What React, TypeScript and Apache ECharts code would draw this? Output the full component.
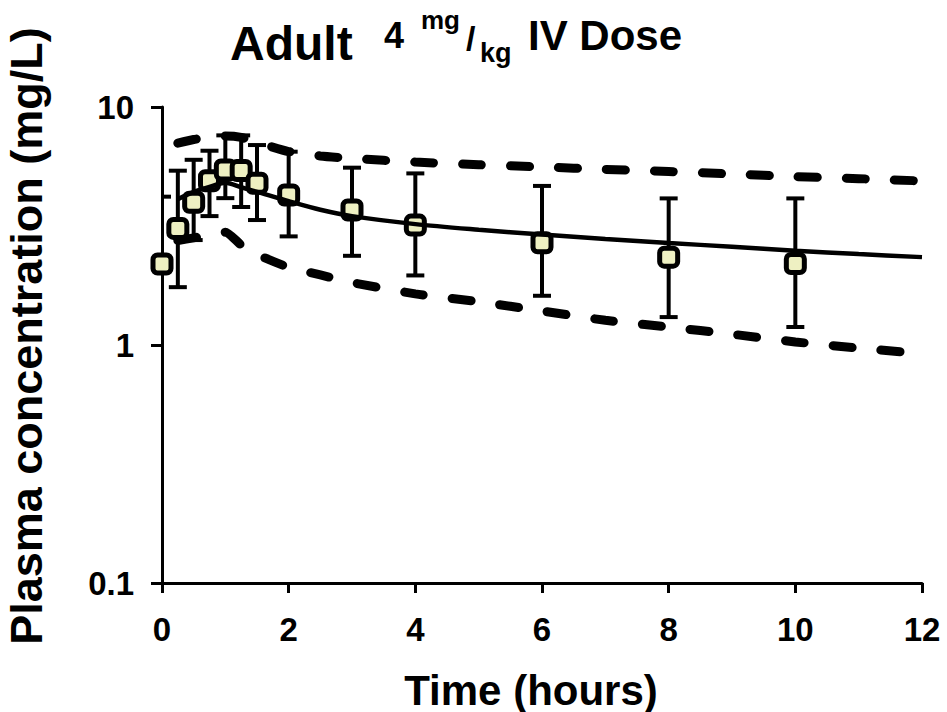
import React, { useEffect, useRef } from "react";
import * as echarts from "echarts";

// Observed data (mean with error bars)
const obsTimes = [0, 0.25, 0.5, 0.75, 1, 1.25, 1.5, 2, 3, 4, 6, 8, 10];
const obsMean = [2.19, 3.09, 3.98, 4.9, 5.44, 5.41, 4.78, 4.27, 3.69, 3.19, 2.69, 2.34, 2.2];
const obsUpper = [4.2, 5.4, 6.0, 6.55, 7.6, 7.6, 6.92, 6.49, 5.56, 5.26, 4.66, 4.13, 4.13];
const obsLower = [0.05, 1.75, 2.76, 3.48, 4.14, 3.8, 3.35, 2.86, 2.37, 1.96, 1.61, 1.31, 1.19];

// Model prediction: median
const medTimes = [0.25, 0.5, 0.75, 1, 1.25, 1.5, 2, 2.5, 3, 4, 5, 6, 7, 8, 9, 10, 11, 12];
const medValues = [4.1, 4.4, 4.62, 4.8, 4.6, 4.4, 4.02, 3.7, 3.48, 3.22, 3.05, 2.91, 2.79, 2.68, 2.59, 2.49, 2.41, 2.34];

// Model prediction: 95th and 5th percentiles
const bandTimes = [0.25, 0.5, 0.75, 1, 1.25, 1.5, 2, 2.5, 3, 4, 5, 6, 7, 8, 9, 10, 11, 12];
const upperValues = [7.05, 7.3, 7.45, 7.55, 7.45, 7.1, 6.5, 6.23, 6.08, 5.87, 5.72, 5.6, 5.47, 5.36, 5.23, 5.1, 5.0, 4.89];
const lowerValues = [2.75, 2.82, 2.9, 2.98, 2.63, 2.4, 2.12, 1.97, 1.83, 1.64, 1.52, 1.39, 1.27, 1.19, 1.11, 1.03, 0.97, 0.92];

const xTicks = { min: 0, max: 12, interval: 2 };
const yTicks = { min: 0.1, max: 10 };

const FONT = "'Liberation Sans', Arial, Helvetica, sans-serif";

export default function App() {
  const ref = useRef<HTMLDivElement>(null);

  useEffect(() => {
    if (!ref.current) return;
    const chart = echarts.init(ref.current, null, { renderer: "svg" });

    const pair = (xs: number[], ys: number[]) => xs.map((x, i) => [x, ys[i]]);

    const t = (text: string, x: number, y: number, size: number, extra: any = {}) => ({
      type: "text",
      x,
      y,
      z: 100,
      style: {
        text,
        font: `bold ${size}px ${FONT}`,
        fill: "#000",
        align: "left",
        verticalAlign: "middle",
        ...extra,
      },
    });

    const option: any = {
      animation: false,
      backgroundColor: "#ffffff",
      grid: { left: 162, top: 107, width: 760, height: 476, containLabel: false },
      xAxis: {
        type: "value",
        min: xTicks.min,
        max: xTicks.max,
        interval: xTicks.interval,
        axisLine: { show: true, lineStyle: { color: "#000", width: 3 } },
        axisTick: { show: true, length: 10, lineStyle: { color: "#000", width: 3 } },
        axisLabel: {
          color: "#000",
          fontSize: 33,
          fontWeight: "bold",
          fontFamily: FONT,
          margin: 30,
        },
        splitLine: { show: false },
      },
      yAxis: {
        type: "log",
        logBase: 10,
        min: yTicks.min,
        max: yTicks.max,
        axisLine: { show: true, lineStyle: { color: "#000", width: 3 } },
        axisTick: { show: true, length: 11, lineStyle: { color: "#000", width: 3 } },
        minorTick: { show: false },
        axisLabel: {
          color: "#000",
          fontSize: 33,
          fontWeight: "bold",
          fontFamily: FONT,
          margin: 28,
          formatter: (v: number) => (v < 1 ? v.toFixed(1) : String(Math.round(v))),
        },
        splitLine: { show: false },
      },
      graphic: [
        t("Adult", 230, 43, 48),
        t("4", 384, 35, 36),
        t("mg", 421, 20, 26),
        t("/", 466, 38, 34),
        t("kg", 480, 53, 27),
        t("IV Dose", 528, 35, 42),
        t("Time (hours)", 531, 690, 42, { align: "center" }),
        {
          type: "text",
          x: 26,
          y: 336,
          rotation: Math.PI / 2,
          z: 100,
          style: {
            text: "Plasma concentration (mg/L)",
            font: `bold 45px ${FONT}`,
            fill: "#000",
            align: "center",
            verticalAlign: "middle",
          },
        },
      ],
      series: [
        {
          type: "line",
          name: "upper",
          data: pair(bandTimes, upperValues),
          symbol: "none",
          smooth: 0.2,
          lineStyle: { color: "#000", width: 9, type: [19, 29], cap: "round" },
          z: 2,
        },
        {
          type: "line",
          name: "lower",
          data: pair(bandTimes, lowerValues),
          symbol: "none",
          smooth: 0.2,
          lineStyle: { color: "#000", width: 9, type: [19, 29], cap: "round" },
          z: 2,
        },
        {
          type: "custom",
          name: "errors",
          clip: true,
          z: 3,
          encode: { x: 0, y: [1, 2] },
          data: obsTimes.map((tt, i) => [tt, obsLower[i], obsUpper[i]]),
          renderItem: (params: any, api: any) => {
            const tv = api.value(0);
            const lo = api.value(1);
            const hi = api.value(2);
            const top = api.coord([tv, hi]);
            const bot = api.coord([tv, lo]);
            const hw = 9;
            const st = { stroke: "#000", lineWidth: 4 };
            return {
              type: "group",
              children: [
                { type: "line", shape: { x1: top[0], y1: top[1], x2: bot[0], y2: bot[1] }, style: st },
                { type: "line", shape: { x1: top[0] - hw, y1: top[1], x2: top[0] + hw, y2: top[1] }, style: st },
                { type: "line", shape: { x1: bot[0] - hw, y1: bot[1], x2: bot[0] + hw, y2: bot[1] }, style: st },
              ],
            };
          },
        },
        {
          type: "scatter",
          name: "observed",
          data: pair(obsTimes, obsMean),
          symbol: "roundRect",
          symbolSize: 18,
          clip: false,
          itemStyle: { color: "#eef0c2", borderColor: "#000", borderWidth: 5, opacity: 1 },
          z: 4,
        },
        {
          type: "line",
          name: "median",
          data: pair(medTimes, medValues),
          symbol: "none",
          smooth: 0.3,
          lineStyle: { color: "#000", width: 4.5 },
          z: 5,
        },
      ],
    };

    chart.setOption(option);
    return () => chart.dispose();
  }, []);

  return (
    <div
      ref={ref}
      style={{ position: "fixed", left: 0, top: 0, width: 947, height: 712, background: "#fff" }}
    />
  );
}
